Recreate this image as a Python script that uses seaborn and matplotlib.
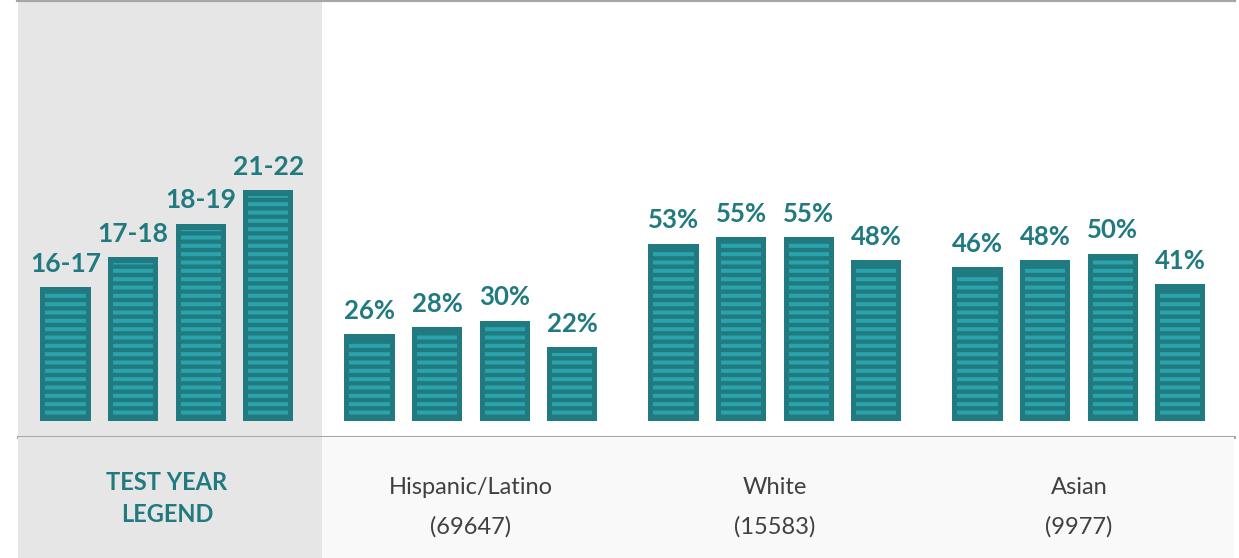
import matplotlib.pyplot as plt
import matplotlib.patches as mpatches
import pandas as pd
import seaborn as sns

# values
groups = ['legend', 'Hispanic/Latino', 'White', 'Asian']
years = ['16-17', '17-18', '18-19', '21-22']
legend_heights = [40, 49, 59, 69]          # decorative legend bars
hispanic = [26, 28, 30, 22]
white = [53, 55, 55, 48]
asian = [46, 48, 50, 41]
counts = [69647, 15583, 9977]

dark = '#207a80'
light = '#2aa3ad'
panel = '#e6e6e6'
line_gray = '#a6a6a6'

rows = []
for g, vals in zip(groups, [legend_heights, hispanic, white, asian]):
    for y, v in zip(years, vals):
        rows.append({'group': g, 'year': y, 'pct': v})
df = pd.DataFrame(rows)

sns.set_theme(style='white')
plt.rcParams['font.family'] = ['Lato', 'DejaVu Sans']
plt.rcParams['patch.force_edgecolor'] = False
plt.rcParams['hatch.color'] = light
plt.rcParams['hatch.linewidth'] = 2.9

W, H = 1239, 558
fig = plt.figure(figsize=(W / 100, H / 100), dpi=100)
fig.patch.set_facecolor('white')

x0, x1 = 18, 1234
xlim = (-0.49, 3.51)
px_per_pct = 3.345
base_px = 421
line_px = 437

# main bar area
ax = fig.add_axes([x0 / W, (H - line_px) / H, (x1 - x0) / W, line_px / H])

sns.barplot(data=df, x='group', y='pct', hue='year', order=groups, hue_order=years,
            palette={y: dark for y in years}, saturation=1, width=0.89, gap=0.26,
            legend=False, ax=ax, zorder=2, linewidth=0)

# seaborn resets the categorical limits, so set them afterwards
ax.set_xlim(*xlim)
ax.set_ylim(-(line_px - base_px) / px_per_pct, base_px / px_per_pct)
ax.axvspan(xlim[0], 0.51, color=panel, zorder=0, lw=0)

bars = sorted([p for p in ax.patches if p.get_width() < 0.5], key=lambda b: b.get_x())

dx = 5 / 304
dy_top = 6 / px_per_pct
dy_bot = 5 / px_per_pct
for p in bars:
    inner = mpatches.Rectangle((p.get_x() + dx, dy_bot), p.get_width() - 2 * dx,
                               p.get_height() - dy_top - dy_bot, facecolor=dark,
                               lw=0, hatch='--', zorder=3)
    ax.add_patch(inner)

# value labels
for i, p in enumerate(bars):
    val = p.get_height()
    if i < 4:
        txt, fs = years[i], 19
    else:
        txt, fs = f'{val:.0f}%', 18.5
    ax.annotate(txt, (p.get_x() + p.get_width() / 2, val), xytext=(0, 11),
                textcoords='offset points', ha='center', va='baseline',
                fontsize=fs, fontweight='bold', color=dark, zorder=4)

ax.set_xlabel('')
ax.set_ylabel('')
ax.set_xticks([])
ax.set_yticks([])
for s in ['left', 'right']:
    ax.spines[s].set_visible(False)
ax.spines['top'].set_color(line_gray)
ax.spines['top'].set_linewidth(3)
ax.spines['bottom'].set_color(line_gray)
ax.spines['bottom'].set_linewidth(2.2)
ax.spines['bottom'].set_zorder(5)

# bottom label band
ax2 = fig.add_axes([x0 / W, 0, (x1 - x0) / W, (H - line_px) / H])
ax2.set_xlim(*xlim)
ax2.set_ylim(H, line_px)
ax2.axis('off')
ax2.add_patch(mpatches.Rectangle((0, 0), 1, 1, transform=ax2.transAxes,
                                 facecolor='#f9f9f9', lw=0, zorder=-1))
ax2.axvspan(xlim[0], 0.51, color=panel, lw=0, zorder=0)

ax2.text(0, 483, 'TEST YEAR', ha='center', va='center', fontsize=17,
         fontweight='bold', color=dark)
ax2.text(0, 515, 'LEGEND', ha='center', va='center', fontsize=17,
         fontweight='bold', color=dark)
for i, (g, n) in enumerate(zip(groups[1:], counts), start=1):
    ax2.text(i, 487, g, ha='center', va='center', fontsize=17, color='#404040')
    ax2.text(i, 527, f'({n})', ha='center', va='center', fontsize=17, color='#404040')

fig.savefig('out.png', dpi=100)
